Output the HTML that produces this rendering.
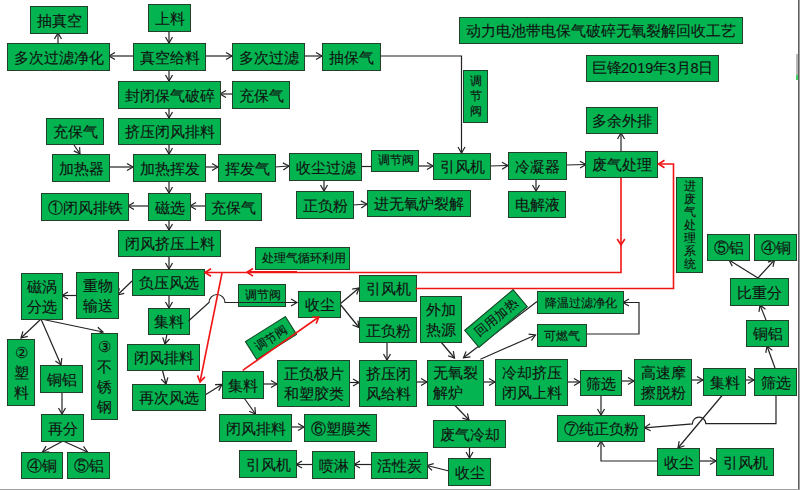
<!DOCTYPE html>
<html><head><meta charset="utf-8"><title>动力电池带电保气破碎无氧裂解回收工艺</title>
<style>
html,body{margin:0;padding:0;background:#fff;}
body{width:800px;height:490px;position:relative;overflow:hidden;font-family:"Liberation Sans",sans-serif;color:#111;}
.b{position:absolute;box-sizing:border-box;background:#03b451;border:1px solid #22402a;display:flex;align-items:center;justify-content:center;text-align:center;white-space:nowrap;line-height:1;-webkit-text-stroke:0.12px #111;}
svg{position:absolute;left:0;top:0;}
.j{display:inline-block;text-align:justify;}
</style></head><body>

<svg width="800" height="490" viewBox="0 0 800 490" style="z-index:0"><path d="M537.0,301.6 L463.5,357.8" stroke="#222" stroke-width="1.2" fill="none"/><path d="M169.0,31.0 L169.0,43.0" stroke="#222" stroke-width="1.2" fill="none"/><path d="M165.5,37.0 L169.0,43.0 L172.5,37.0" stroke="#222" stroke-width="1.2" fill="none"/><path d="M133.0,56.0 L109.0,56.0" stroke="#222" stroke-width="1.2" fill="none"/><path d="M115.0,52.5 L109.0,56.0 L115.0,59.5" stroke="#222" stroke-width="1.2" fill="none"/><path d="M58.0,43.0 L58.0,33.0" stroke="#222" stroke-width="1.2" fill="none"/><path d="M61.5,39.0 L58.0,33.0 L54.5,39.0" stroke="#222" stroke-width="1.2" fill="none"/><path d="M205.0,56.0 L232.0,56.0" stroke="#222" stroke-width="1.2" fill="none"/><path d="M226.0,59.5 L232.0,56.0 L226.0,52.5" stroke="#222" stroke-width="1.2" fill="none"/><path d="M304.0,56.0 L322.0,56.0" stroke="#222" stroke-width="1.2" fill="none"/><path d="M316.0,59.5 L322.0,56.0 L316.0,52.5" stroke="#222" stroke-width="1.2" fill="none"/><path d="M380.0,56.0 L461.5,56.0 L461.5,153.0" stroke="#222" stroke-width="1.2" fill="none"/><path d="M458.0,147.0 L461.5,153.0 L465.0,147.0" stroke="#222" stroke-width="1.2" fill="none"/><path d="M169.0,70.0 L169.0,81.0" stroke="#222" stroke-width="1.2" fill="none"/><path d="M165.5,75.0 L169.0,81.0 L172.5,75.0" stroke="#222" stroke-width="1.2" fill="none"/><path d="M232.0,94.0 L220.0,94.0" stroke="#222" stroke-width="1.2" fill="none"/><path d="M226.0,90.5 L220.0,94.0 L226.0,97.5" stroke="#222" stroke-width="1.2" fill="none"/><path d="M169.0,108.0 L169.0,118.0" stroke="#222" stroke-width="1.2" fill="none"/><path d="M165.5,112.0 L169.0,118.0 L172.5,112.0" stroke="#222" stroke-width="1.2" fill="none"/><path d="M74.0,145.0 L80.0,154.0" stroke="#222" stroke-width="1.2" fill="none"/><path d="M73.8,150.9 L80.0,154.0 L79.6,147.1" stroke="#222" stroke-width="1.2" fill="none"/><path d="M169.0,144.0 L169.0,154.0" stroke="#222" stroke-width="1.2" fill="none"/><path d="M165.5,148.0 L169.0,154.0 L172.5,148.0" stroke="#222" stroke-width="1.2" fill="none"/><path d="M109.0,167.0 L133.0,167.0" stroke="#222" stroke-width="1.2" fill="none"/><path d="M127.0,170.5 L133.0,167.0 L127.0,163.5" stroke="#222" stroke-width="1.2" fill="none"/><path d="M205.0,167.0 L218.0,167.0" stroke="#222" stroke-width="1.2" fill="none"/><path d="M212.0,170.5 L218.0,167.0 L212.0,163.5" stroke="#222" stroke-width="1.2" fill="none"/><path d="M275.0,167.0 L289.0,166.0" stroke="#222" stroke-width="1.2" fill="none"/><path d="M283.3,169.9 L289.0,166.0 L282.8,162.9" stroke="#222" stroke-width="1.2" fill="none"/><path d="M361.0,166.5 L371.0,166.5" stroke="#222" stroke-width="1.2" fill="none"/><path d="M418.0,166.0 L433.0,166.0" stroke="#222" stroke-width="1.2" fill="none"/><path d="M427.0,169.5 L433.0,166.0 L427.0,162.5" stroke="#222" stroke-width="1.2" fill="none"/><path d="M490.0,166.0 L508.0,165.5" stroke="#222" stroke-width="1.2" fill="none"/><path d="M502.1,169.2 L508.0,165.5 L501.9,162.2" stroke="#222" stroke-width="1.2" fill="none"/><path d="M536.0,179.0 L536.0,191.0" stroke="#222" stroke-width="1.2" fill="none"/><path d="M532.5,185.0 L536.0,191.0 L539.5,185.0" stroke="#222" stroke-width="1.2" fill="none"/><path d="M566.0,165.0 L586.0,164.5" stroke="#222" stroke-width="1.2" fill="none"/><path d="M580.1,168.1 L586.0,164.5 L579.9,161.2" stroke="#222" stroke-width="1.2" fill="none"/><path d="M621.0,152.0 L621.0,133.0" stroke="#222" stroke-width="1.2" fill="none"/><path d="M624.5,139.0 L621.0,133.0 L617.5,139.0" stroke="#222" stroke-width="1.2" fill="none"/><path d="M169.0,181.0 L169.0,193.0" stroke="#222" stroke-width="1.2" fill="none"/><path d="M165.5,187.0 L169.0,193.0 L172.5,187.0" stroke="#222" stroke-width="1.2" fill="none"/><path d="M148.0,206.0 L128.0,206.0" stroke="#222" stroke-width="1.2" fill="none"/><path d="M134.0,202.5 L128.0,206.0 L134.0,209.5" stroke="#222" stroke-width="1.2" fill="none"/><path d="M205.0,206.0 L190.0,206.0" stroke="#222" stroke-width="1.2" fill="none"/><path d="M196.0,202.5 L190.0,206.0 L196.0,209.5" stroke="#222" stroke-width="1.2" fill="none"/><path d="M324.0,180.0 L324.0,191.0" stroke="#222" stroke-width="1.2" fill="none"/><path d="M320.5,185.0 L324.0,191.0 L327.5,185.0" stroke="#222" stroke-width="1.2" fill="none"/><path d="M353.0,205.0 L367.0,204.0" stroke="#222" stroke-width="1.2" fill="none"/><path d="M361.3,207.9 L367.0,204.0 L360.8,200.9" stroke="#222" stroke-width="1.2" fill="none"/><path d="M169.0,220.0 L169.0,230.0" stroke="#222" stroke-width="1.2" fill="none"/><path d="M165.5,224.0 L169.0,230.0 L172.5,224.0" stroke="#222" stroke-width="1.2" fill="none"/><path d="M169.0,256.0 L169.0,269.0" stroke="#222" stroke-width="1.2" fill="none"/><path d="M165.5,263.0 L169.0,269.0 L172.5,263.0" stroke="#222" stroke-width="1.2" fill="none"/><path d="M169.0,295.0 L169.0,308.0" stroke="#222" stroke-width="1.2" fill="none"/><path d="M165.5,302.0 L169.0,308.0 L172.5,302.0" stroke="#222" stroke-width="1.2" fill="none"/><path d="M132.0,281.0 L117.5,295.0" stroke="#222" stroke-width="1.2" fill="none"/><path d="M119.4,288.3 L117.5,295.0 L124.2,293.4" stroke="#222" stroke-width="1.2" fill="none"/><path d="M76.0,295.5 L62.0,295.5" stroke="#222" stroke-width="1.2" fill="none"/><path d="M68.0,292.0 L62.0,295.5 L68.0,299.0" stroke="#222" stroke-width="1.2" fill="none"/><path d="M41.0,319.0 L21.0,338.0" stroke="#222" stroke-width="1.2" fill="none"/><path d="M22.9,331.3 L21.0,338.0 L27.8,336.4" stroke="#222" stroke-width="1.2" fill="none"/><path d="M41.0,319.0 L61.0,365.0" stroke="#222" stroke-width="1.2" fill="none"/><path d="M55.4,360.9 L61.0,365.0 L61.8,358.1" stroke="#222" stroke-width="1.2" fill="none"/><path d="M41.0,319.0 L103.0,332.0" stroke="#222" stroke-width="1.2" fill="none"/><path d="M96.4,334.2 L103.0,332.0 L97.8,327.3" stroke="#222" stroke-width="1.2" fill="none"/><path d="M62.0,392.0 L62.0,414.0" stroke="#222" stroke-width="1.2" fill="none"/><path d="M58.5,408.0 L62.0,414.0 L65.5,408.0" stroke="#222" stroke-width="1.2" fill="none"/><path d="M63.0,441.0 L42.5,452.0" stroke="#222" stroke-width="1.2" fill="none"/><path d="M46.1,446.1 L42.5,452.0 L49.4,452.2" stroke="#222" stroke-width="1.2" fill="none"/><path d="M63.0,441.0 L87.5,452.0" stroke="#222" stroke-width="1.2" fill="none"/><path d="M80.6,452.7 L87.5,452.0 L83.5,446.3" stroke="#222" stroke-width="1.2" fill="none"/><path d="M167.0,334.0 L165.0,344.0" stroke="#222" stroke-width="1.2" fill="none"/><path d="M162.7,337.4 L165.0,344.0 L169.6,338.8" stroke="#222" stroke-width="1.2" fill="none"/><path d="M162.5,370.5 L166.0,384.0" stroke="#222" stroke-width="1.2" fill="none"/><path d="M161.1,379.1 L166.0,384.0 L167.9,377.3" stroke="#222" stroke-width="1.2" fill="none"/><path d="M205.0,395.0 L222.0,384.5" stroke="#222" stroke-width="1.2" fill="none"/><path d="M218.7,390.6 L222.0,384.5 L215.1,384.7" stroke="#222" stroke-width="1.2" fill="none"/><path d="M243.7,397.5 L255.5,414.0" stroke="#222" stroke-width="1.2" fill="none"/><path d="M249.2,411.2 L255.5,414.0 L254.9,407.1" stroke="#222" stroke-width="1.2" fill="none"/><path d="M291.0,427.0 L304.0,427.0" stroke="#222" stroke-width="1.2" fill="none"/><path d="M298.0,430.5 L304.0,427.0 L298.0,423.5" stroke="#222" stroke-width="1.2" fill="none"/><path d="M263.0,384.0 L277.0,384.0" stroke="#222" stroke-width="1.2" fill="none"/><path d="M271.0,387.5 L277.0,384.0 L271.0,380.5" stroke="#222" stroke-width="1.2" fill="none"/><path d="M349.0,382.5 L359.0,382.5" stroke="#222" stroke-width="1.2" fill="none"/><path d="M353.0,386.0 L359.0,382.5 L353.0,379.0" stroke="#222" stroke-width="1.2" fill="none"/><path d="M387.0,342.0 L387.0,360.0" stroke="#222" stroke-width="1.2" fill="none"/><path d="M383.5,354.0 L387.0,360.0 L390.5,354.0" stroke="#222" stroke-width="1.2" fill="none"/><path d="M340.0,304.0 L359.0,288.0" stroke="#222" stroke-width="1.2" fill="none"/><path d="M356.7,294.5 L359.0,288.0 L352.2,289.2" stroke="#222" stroke-width="1.2" fill="none"/><path d="M340.0,304.0 L359.0,327.5" stroke="#222" stroke-width="1.2" fill="none"/><path d="M352.5,325.0 L359.0,327.5 L357.9,320.6" stroke="#222" stroke-width="1.2" fill="none"/><path d="M416.0,382.0 L427.0,382.0" stroke="#222" stroke-width="1.2" fill="none"/><path d="M421.0,385.5 L427.0,382.0 L421.0,378.5" stroke="#222" stroke-width="1.2" fill="none"/><path d="M441.0,342.0 L454.5,358.0" stroke="#222" stroke-width="1.2" fill="none"/><path d="M448.0,355.7 L454.5,358.0 L453.3,351.2" stroke="#222" stroke-width="1.2" fill="none"/><path d="M480.4,359.2 L535.5,335.0" stroke="#222" stroke-width="1.2" fill="none"/><path d="M531.4,340.6 L535.5,335.0 L528.6,334.2" stroke="#222" stroke-width="1.2" fill="none"/><path d="M586.0,334.0 L639.0,334.0 L639.0,302.5 L623.0,302.5" stroke="#222" stroke-width="1.2" fill="none"/><path d="M629.0,299.0 L623.0,302.5 L629.0,306.0" stroke="#222" stroke-width="1.2" fill="none"/><path d="M483.0,382.0 L495.0,382.0" stroke="#222" stroke-width="1.2" fill="none"/><path d="M489.0,385.5 L495.0,382.0 L489.0,378.5" stroke="#222" stroke-width="1.2" fill="none"/><path d="M567.0,382.0 L580.0,382.0" stroke="#222" stroke-width="1.2" fill="none"/><path d="M574.0,385.5 L580.0,382.0 L574.0,378.5" stroke="#222" stroke-width="1.2" fill="none"/><path d="M601.0,395.0 L601.0,415.0" stroke="#222" stroke-width="1.2" fill="none"/><path d="M597.5,409.0 L601.0,415.0 L604.5,409.0" stroke="#222" stroke-width="1.2" fill="none"/><path d="M621.5,381.0 L634.0,381.0" stroke="#222" stroke-width="1.2" fill="none"/><path d="M628.0,384.5 L634.0,381.0 L628.0,377.5" stroke="#222" stroke-width="1.2" fill="none"/><path d="M691.0,380.0 L703.0,380.0" stroke="#222" stroke-width="1.2" fill="none"/><path d="M697.0,383.5 L703.0,380.0 L697.0,376.5" stroke="#222" stroke-width="1.2" fill="none"/><path d="M745.0,380.0 L754.0,380.0" stroke="#222" stroke-width="1.2" fill="none"/><path d="M748.0,383.5 L754.0,380.0 L748.0,376.5" stroke="#222" stroke-width="1.2" fill="none"/><path d="M775.0,368.0 L767.0,346.0" stroke="#222" stroke-width="1.2" fill="none"/><path d="M772.3,350.4 L767.0,346.0 L765.8,352.8" stroke="#222" stroke-width="1.2" fill="none"/><path d="M766.0,320.0 L760.0,305.0" stroke="#222" stroke-width="1.2" fill="none"/><path d="M765.5,309.3 L760.0,305.0 L759.0,311.9" stroke="#222" stroke-width="1.2" fill="none"/><path d="M758.0,278.0 L729.0,260.0" stroke="#222" stroke-width="1.2" fill="none"/><path d="M735.9,260.2 L729.0,260.0 L732.3,266.1" stroke="#222" stroke-width="1.2" fill="none"/><path d="M758.0,278.0 L774.5,260.0" stroke="#222" stroke-width="1.2" fill="none"/><path d="M773.0,266.8 L774.5,260.0 L767.9,262.1" stroke="#222" stroke-width="1.2" fill="none"/><path d="M722.5,395.0 L678.0,448.0" stroke="#222" stroke-width="1.2" fill="none"/><path d="M679.2,441.2 L678.0,448.0 L684.5,445.7" stroke="#222" stroke-width="1.2" fill="none"/><path d="M699.0,461.0 L716.0,461.0" stroke="#222" stroke-width="1.2" fill="none"/><path d="M710.0,464.5 L716.0,461.0 L710.0,457.5" stroke="#222" stroke-width="1.2" fill="none"/><path d="M657.0,461.0 L601.0,461.0 L601.0,441.0" stroke="#222" stroke-width="1.2" fill="none"/><path d="M604.5,447.0 L601.0,441.0 L597.5,447.0" stroke="#222" stroke-width="1.2" fill="none"/><path d="M455.0,405.5 L469.0,420.0" stroke="#222" stroke-width="1.2" fill="none"/><path d="M462.3,418.1 L469.0,420.0 L467.4,413.3" stroke="#222" stroke-width="1.2" fill="none"/><path d="M469.5,447.0 L469.5,458.0" stroke="#222" stroke-width="1.2" fill="none"/><path d="M466.0,452.0 L469.5,458.0 L473.0,452.0" stroke="#222" stroke-width="1.2" fill="none"/><path d="M449.0,471.0 L427.0,465.5" stroke="#222" stroke-width="1.2" fill="none"/><path d="M433.7,463.6 L427.0,465.5 L432.0,470.4" stroke="#222" stroke-width="1.2" fill="none"/><path d="M371.0,464.5 L354.0,464.5" stroke="#222" stroke-width="1.2" fill="none"/><path d="M360.0,461.0 L354.0,464.5 L360.0,468.0" stroke="#222" stroke-width="1.2" fill="none"/><path d="M312.0,464.5 L296.0,464.5" stroke="#222" stroke-width="1.2" fill="none"/><path d="M302.0,461.0 L296.0,464.5 L302.0,468.0" stroke="#222" stroke-width="1.2" fill="none"/><path d="M776,395 L776,423.7 L705.8,423.7 A6.7,6.7 0 0 0 692.4,423.9 L644.4,427.8" stroke="#222" stroke-width="1.2" fill="none"/><path d="M650.1,423.8 L644.4,427.8 L650.7,430.8" stroke="#222" stroke-width="1.2" fill="none"/></svg>
<div class="b" style="left:30px;top:6px;width:58px;height:28px;font-size:15px;z-index:1"><div style="text-align:center"><span class="j" style="width:45px;text-align-last:justify">抽真空</span></div></div>
<div class="b" style="left:148px;top:4px;width:43px;height:28px;font-size:15px;z-index:1"><div style="text-align:center"><span class="j" style="width:30px;text-align-last:justify">上料</span></div></div>
<div class="b" style="left:7px;top:43px;width:103px;height:28px;font-size:15px;z-index:1"><div style="text-align:center"><span class="j" style="width:90px;text-align-last:justify">多次过滤净化</span></div></div>
<div class="b" style="left:133px;top:43px;width:73px;height:28px;font-size:15px;z-index:1"><div style="text-align:center"><span class="j" style="width:60px;text-align-last:justify">真空给料</span></div></div>
<div class="b" style="left:232px;top:43px;width:73px;height:28px;font-size:15px;z-index:1"><div style="text-align:center"><span class="j" style="width:60px;text-align-last:justify">多次过滤</span></div></div>
<div class="b" style="left:322px;top:43px;width:59px;height:28px;font-size:15px;z-index:1"><div style="text-align:center"><span class="j" style="width:45px;text-align-last:justify">抽保气</span></div></div>
<div class="b" style="left:459px;top:17px;width:284px;height:27px;font-size:15px;z-index:1"><div style="text-align:center"><span class="j" style="width:270px;text-align-last:justify">动力电池带电保气破碎无氧裂解回收工艺</span></div></div>
<div class="b" style="left:463px;top:70px;width:25px;height:53px;font-size:12px;line-height:15px;z-index:1"><div style="text-align:center"><span class="j" style="width:12px;text-align-last:center">调</span><br><span class="j" style="width:12px;text-align-last:center">节</span><br><span class="j" style="width:12px;text-align-last:center">阀</span></div></div>
<div class="b" style="left:586px;top:55px;width:133px;height:27px;font-size:14.5px;font-family:'Liberation Sans',sans-serif;z-index:1"><span class="j" style="width:29px;text-align-last:justify">巨锋</span>2019<span class="j" style="width:14.5px;text-align-last:center">年</span>3<span class="j" style="width:14.5px;text-align-last:center">月</span>8<span class="j" style="width:14.5px;text-align-last:center">日</span></div>
<div class="b" style="left:118px;top:81px;width:103px;height:28px;font-size:15px;z-index:1"><div style="text-align:center"><span class="j" style="width:90px;text-align-last:justify">封闭保气破碎</span></div></div>
<div class="b" style="left:232px;top:81px;width:58px;height:28px;font-size:15px;z-index:1"><div style="text-align:center"><span class="j" style="width:45px;text-align-last:justify">充保气</span></div></div>
<div class="b" style="left:586px;top:107px;width:72px;height:27px;font-size:15px;z-index:1"><div style="text-align:center"><span class="j" style="width:60px;text-align-last:justify">多余外排</span></div></div>
<div class="b" style="left:118px;top:118px;width:103px;height:27px;font-size:15px;z-index:1"><div style="text-align:center"><span class="j" style="width:90px;text-align-last:justify">挤压闭风排料</span></div></div>
<div class="b" style="left:46px;top:118px;width:58px;height:27px;font-size:15px;z-index:1"><div style="text-align:center"><span class="j" style="width:45px;text-align-last:justify">充保气</span></div></div>
<div class="b" style="left:52px;top:154px;width:58px;height:28px;font-size:15px;z-index:1"><div style="text-align:center"><span class="j" style="width:45px;text-align-last:justify">加热器</span></div></div>
<div class="b" style="left:133px;top:154px;width:73px;height:28px;font-size:15px;z-index:1"><div style="text-align:center"><span class="j" style="width:60px;text-align-last:justify">加热挥发</span></div></div>
<div class="b" style="left:218px;top:154px;width:58px;height:28px;font-size:15px;z-index:1"><div style="text-align:center"><span class="j" style="width:45px;text-align-last:justify">挥发气</span></div></div>
<div class="b" style="left:289px;top:153px;width:73px;height:28px;font-size:15px;z-index:1"><div style="text-align:center"><span class="j" style="width:60px;text-align-last:justify">收尘过滤</span></div></div>
<div class="b" style="left:371px;top:150px;width:48px;height:22px;font-size:11.5px;z-index:1"><div style="text-align:center"><span class="j" style="width:34.5px;text-align-last:justify">调节阀</span></div></div>
<div class="b" style="left:433px;top:153px;width:58px;height:27px;font-size:15px;z-index:1"><div style="text-align:center"><span class="j" style="width:45px;text-align-last:justify">引风机</span></div></div>
<div class="b" style="left:508px;top:152px;width:59px;height:28px;font-size:15px;z-index:1"><div style="text-align:center"><span class="j" style="width:45px;text-align-last:justify">冷凝器</span></div></div>
<div class="b" style="left:585px;top:151px;width:73px;height:27px;font-size:15px;z-index:1"><div style="text-align:center"><span class="j" style="width:60px;text-align-last:justify">废气处理</span></div></div>
<div class="b" style="left:148px;top:193px;width:43px;height:28px;font-size:15px;z-index:1"><div style="text-align:center"><span class="j" style="width:30px;text-align-last:justify">磁选</span></div></div>
<div class="b" style="left:41px;top:193px;width:88px;height:28px;font-size:15px;z-index:1"><div style="text-align:center"><span class="j" style="width:75px;text-align-last:justify">①闭风排铁</span></div></div>
<div class="b" style="left:205px;top:193px;width:57px;height:28px;font-size:15px;z-index:1"><div style="text-align:center"><span class="j" style="width:45px;text-align-last:justify">充保气</span></div></div>
<div class="b" style="left:296px;top:191px;width:58px;height:28px;font-size:15px;z-index:1"><div style="text-align:center"><span class="j" style="width:45px;text-align-last:justify">正负粉</span></div></div>
<div class="b" style="left:367px;top:190px;width:104px;height:27px;font-size:15px;z-index:1"><div style="text-align:center"><span class="j" style="width:90px;text-align-last:justify">进无氧炉裂解</span></div></div>
<div class="b" style="left:508px;top:191px;width:58px;height:27px;font-size:15px;z-index:1"><div style="text-align:center"><span class="j" style="width:45px;text-align-last:justify">电解液</span></div></div>
<div class="b" style="left:676px;top:177px;width:27px;height:96px;font-size:12px;line-height:13px;z-index:1"><div style="text-align:center"><span class="j" style="width:12px;text-align-last:center">进</span><br><span class="j" style="width:12px;text-align-last:center">废</span><br><span class="j" style="width:12px;text-align-last:center">气</span><br><span class="j" style="width:12px;text-align-last:center">处</span><br><span class="j" style="width:12px;text-align-last:center">理</span><br><span class="j" style="width:12px;text-align-last:center">系</span><br><span class="j" style="width:12px;text-align-last:center">统</span></div></div>
<div class="b" style="left:118px;top:230px;width:103px;height:27px;font-size:15px;z-index:1"><div style="text-align:center"><span class="j" style="width:90px;text-align-last:justify">闭风挤压上料</span></div></div>
<div class="b" style="left:707px;top:234px;width:43px;height:27px;font-size:15px;z-index:1"><div style="text-align:center"><span class="j" style="width:30px;text-align-last:justify">⑤铝</span></div></div>
<div class="b" style="left:754px;top:234px;width:43px;height:27px;font-size:15px;z-index:1"><div style="text-align:center"><span class="j" style="width:30px;text-align-last:justify">④铜</span></div></div>
<div class="b" style="left:255px;top:247px;width:95px;height:23px;font-size:11.5px;z-index:1"><div style="text-align:center"><span class="j" style="width:80.5px;text-align-last:justify">处理气循环利用</span></div></div>
<div class="b" style="left:132px;top:269px;width:73px;height:27px;font-size:15px;z-index:1"><div style="text-align:center"><span class="j" style="width:60px;text-align-last:justify">负压风选</span></div></div>
<div class="b" style="left:76px;top:272px;width:43px;height:47px;font-size:15px;line-height:20px;z-index:1"><div style="text-align:center"><span class="j" style="width:30px;text-align-last:justify">重物</span><br><span class="j" style="width:30px;text-align-last:justify">输送</span></div></div>
<div class="b" style="left:21px;top:273px;width:42px;height:47px;font-size:15px;line-height:20px;z-index:1"><div style="text-align:center"><span class="j" style="width:30px;text-align-last:justify">磁涡</span><br><span class="j" style="width:30px;text-align-last:justify">分选</span></div></div>
<div class="b" style="left:730px;top:278px;width:59px;height:28px;font-size:15px;z-index:1"><div style="text-align:center"><span class="j" style="width:45px;text-align-last:justify">比重分</span></div></div>
<div class="b" style="left:359px;top:275px;width:58px;height:27px;font-size:15px;z-index:1"><div style="text-align:center"><span class="j" style="width:45px;text-align-last:justify">引风机</span></div></div>
<div class="b" style="left:238px;top:284px;width:48px;height:23px;font-size:11.5px;z-index:1"><div style="text-align:center"><span class="j" style="width:34.5px;text-align-last:justify">调节阀</span></div></div>
<div class="b" style="left:298px;top:291px;width:43px;height:27px;font-size:15px;z-index:1"><div style="text-align:center"><span class="j" style="width:30px;text-align-last:justify">收尘</span></div></div>
<div class="b" style="left:537px;top:291px;width:87px;height:23px;font-size:12px;z-index:1"><div style="text-align:center"><span class="j" style="width:72px;text-align-last:justify">降温过滤净化</span></div></div>
<div class="b" style="left:420px;top:296px;width:42px;height:47px;font-size:15px;line-height:20px;z-index:1"><div style="text-align:center"><span class="j" style="width:30px;text-align-last:justify">外加</span><br><span class="j" style="width:30px;text-align-last:justify">热源</span></div></div>
<div class="b" style="left:148px;top:308px;width:42px;height:27px;font-size:15px;z-index:1"><div style="text-align:center"><span class="j" style="width:30px;text-align-last:justify">集料</span></div></div>
<div class="b" style="left:359px;top:317px;width:58px;height:26px;font-size:15px;z-index:1"><div style="text-align:center"><span class="j" style="width:45px;text-align-last:justify">正负粉</span></div></div>
<div class="b" style="left:746px;top:320px;width:43px;height:27px;font-size:15px;z-index:1"><div style="text-align:center"><span class="j" style="width:30px;text-align-last:justify">铜铝</span></div></div>
<div class="b" style="left:537px;top:324px;width:50px;height:23px;font-size:12px;z-index:1"><div style="text-align:center"><span class="j" style="width:36px;text-align-last:justify">可燃气</span></div></div>
<div class="b" style="left:7px;top:339px;width:28px;height:67px;font-size:15px;line-height:20px;z-index:1"><div style="text-align:center"><span class="j" style="width:15px;text-align-last:center">②</span><br><span class="j" style="width:15px;text-align-last:center">塑</span><br><span class="j" style="width:15px;text-align-last:center">料</span></div></div>
<div class="b" style="left:91px;top:333px;width:27px;height:87px;font-size:15px;line-height:20px;z-index:1"><div style="text-align:center"><span class="j" style="width:15px;text-align-last:center">③</span><br><span class="j" style="width:15px;text-align-last:center">不</span><br><span class="j" style="width:15px;text-align-last:center">锈</span><br><span class="j" style="width:15px;text-align-last:center">钢</span></div></div>
<div class="b" style="left:127px;top:344px;width:73px;height:27px;font-size:15px;z-index:1"><div style="text-align:center"><span class="j" style="width:60px;text-align-last:justify">闭风排料</span></div></div>
<div class="b" style="left:40px;top:365px;width:43px;height:28px;font-size:15px;z-index:1"><div style="text-align:center"><span class="j" style="width:30px;text-align-last:justify">铜铝</span></div></div>
<div class="b" style="left:634px;top:359px;width:58px;height:47px;font-size:15px;line-height:20px;z-index:1"><div style="text-align:center"><span class="j" style="width:45px;text-align-last:justify">高速摩</span><br><span class="j" style="width:45px;text-align-last:justify">擦脱粉</span></div></div>
<div class="b" style="left:277px;top:360px;width:73px;height:47px;font-size:15px;line-height:20px;z-index:1"><div style="text-align:center"><span class="j" style="width:60px;text-align-last:justify">正负极片</span><br><span class="j" style="width:60px;text-align-last:justify">和塑胶类</span></div></div>
<div class="b" style="left:359px;top:360px;width:58px;height:47px;font-size:15px;line-height:20px;z-index:1"><div style="text-align:center"><span class="j" style="width:45px;text-align-last:justify">挤压闭</span><br><span class="j" style="width:45px;text-align-last:justify">风给料</span></div></div>
<div class="b" style="left:427px;top:360px;width:57px;height:46px;font-size:15px;line-height:20px;z-index:1"><div style="text-align:left"><span class="j" style="width:45px;text-align-last:justify">无氧裂</span><br><span class="j" style="width:30px;text-align-last:justify">解炉</span></div></div>
<div class="b" style="left:495px;top:359px;width:73px;height:47px;font-size:15px;line-height:20px;z-index:1"><div style="text-align:center"><span class="j" style="width:60px;text-align-last:justify">冷却挤压</span><br><span class="j" style="width:60px;text-align-last:justify">闭风上料</span></div></div>
<div class="b" style="left:703px;top:368px;width:43px;height:28px;font-size:15px;z-index:1"><div style="text-align:center"><span class="j" style="width:30px;text-align-last:justify">集料</span></div></div>
<div class="b" style="left:754px;top:368px;width:43px;height:28px;font-size:15px;z-index:1"><div style="text-align:center"><span class="j" style="width:30px;text-align-last:justify">筛选</span></div></div>
<div class="b" style="left:222px;top:371px;width:42px;height:28px;font-size:15px;z-index:1"><div style="text-align:center"><span class="j" style="width:30px;text-align-last:justify">集料</span></div></div>
<div class="b" style="left:580px;top:370px;width:42px;height:26px;font-size:15px;z-index:1"><div style="text-align:center"><span class="j" style="width:30px;text-align-last:justify">筛选</span></div></div>
<div class="b" style="left:132px;top:384px;width:74px;height:27px;font-size:15px;z-index:1"><div style="text-align:center"><span class="j" style="width:60px;text-align-last:justify">再次风选</span></div></div>
<div class="b" style="left:219px;top:414px;width:73px;height:28px;font-size:15px;z-index:1"><div style="text-align:center"><span class="j" style="width:60px;text-align-last:justify">闭风排料</span></div></div>
<div class="b" style="left:304px;top:414px;width:73px;height:28px;font-size:15px;z-index:1"><div style="text-align:center"><span class="j" style="width:60px;text-align-last:justify">⑥塑膜类</span></div></div>
<div class="b" style="left:41px;top:414px;width:43px;height:28px;font-size:15px;z-index:1"><div style="text-align:center"><span class="j" style="width:30px;text-align-last:justify">再分</span></div></div>
<div class="b" style="left:557px;top:415px;width:88px;height:27px;font-size:15px;z-index:1"><div style="text-align:center"><span class="j" style="width:75px;text-align-last:justify">⑦纯正负粉</span></div></div>
<div class="b" style="left:433px;top:420px;width:73px;height:28px;font-size:15px;z-index:1"><div style="text-align:center"><span class="j" style="width:60px;text-align-last:justify">废气冷却</span></div></div>
<div class="b" style="left:21px;top:452px;width:42px;height:27px;font-size:15px;z-index:1"><div style="text-align:center"><span class="j" style="width:30px;text-align-last:justify">④铜</span></div></div>
<div class="b" style="left:67px;top:452px;width:43px;height:27px;font-size:15px;z-index:1"><div style="text-align:center"><span class="j" style="width:30px;text-align-last:justify">⑤铝</span></div></div>
<div class="b" style="left:239px;top:450px;width:58px;height:28px;font-size:15px;z-index:1"><div style="text-align:center"><span class="j" style="width:45px;text-align-last:justify">引风机</span></div></div>
<div class="b" style="left:312px;top:451px;width:43px;height:28px;font-size:15px;z-index:1"><div style="text-align:center"><span class="j" style="width:30px;text-align-last:justify">喷淋</span></div></div>
<div class="b" style="left:371px;top:452px;width:57px;height:27px;font-size:15px;z-index:1"><div style="text-align:center"><span class="j" style="width:45px;text-align-last:justify">活性炭</span></div></div>
<div class="b" style="left:448px;top:458px;width:43px;height:28px;font-size:15px;z-index:1"><div style="text-align:center"><span class="j" style="width:30px;text-align-last:justify">收尘</span></div></div>
<div class="b" style="left:657px;top:448px;width:43px;height:28px;font-size:15px;z-index:1"><div style="text-align:center"><span class="j" style="width:30px;text-align-last:justify">收尘</span></div></div>
<div class="b" style="left:716px;top:448px;width:58px;height:28px;font-size:15px;z-index:1"><div style="text-align:center"><span class="j" style="width:45px;text-align-last:justify">引风机</span></div></div>
<div class="b" style="left:463.7px;top:306.9px;width:64px;height:23px;font-size:12.5px;transform:rotate(-40deg);z-index:1"><div style="text-align:center"><span class="j" style="width:50px;text-align-last:justify">回用加热</span></div></div>
<div class="b" style="left:247.4px;top:326.5px;width:48px;height:22px;font-size:12px;transform:rotate(-32deg);z-index:1"><div style="text-align:center"><span class="j" style="width:36px;text-align-last:justify">调节阀</span></div></div>
<svg width="800" height="490" viewBox="0 0 800 490" style="z-index:2"><path d="M466.1,351.4 L463.5,357.8 L470.4,356.9" stroke="#222" stroke-width="1.2" fill="none"/><path d="M188.5,321 L209,302.5 A8,8 0 0 1 225,302.5 L297,302.5" stroke="#222" stroke-width="1.2" fill="none"/><path d="M291.0,306.0 L297.0,302.5 L291.0,299.0" stroke="#222" stroke-width="1.2" fill="none"/><path d="M621,178 L621,272.5 L205,272.5" stroke="#f01515" stroke-width="1.6" fill="none"/><path d="M211.0,268.7 L205.0,272.5 L211.0,276.3" stroke="#f01515" stroke-width="1.6" fill="none"/><path d="M253.0,268.5 L247.0,272.3 L253.0,276.1" stroke="#f01515" stroke-width="1.6" fill="none"/><path d="M297,272 L247,272" stroke="#f01515" stroke-width="2.2" fill="none"/><path d="M617.2,239.0 L621.0,245.0 L624.8,239.0" stroke="#f01515" stroke-width="1.6" fill="none"/><path d="M415.5,288.5 L673.5,288.5 L673.5,164 L658.5,164" stroke="#f01515" stroke-width="1.6" fill="none"/><path d="M664.5,160.2 L658.5,164.0 L664.5,167.8" stroke="#f01515" stroke-width="1.6" fill="none"/><path d="M222,273 L200,382" stroke="#f01515" stroke-width="1.6" fill="none"/><path d="M197.5,375.4 L200.0,382.0 L204.9,376.9" stroke="#f01515" stroke-width="1.6" fill="none"/><path d="M242.7,370.4 L318.8,317" stroke="#f01515" stroke-width="1.6" fill="none"/><path d="M316.1,323.6 L318.8,317.0 L311.7,317.3" stroke="#f01515" stroke-width="1.6" fill="none"/><rect x="796" y="54" width="2" height="21" fill="#b8b8b8"/><rect x="796" y="75" width="2" height="5" fill="#3cd060"/><rect x="798" y="0" width="1.6" height="490" fill="#606060"/><rect x="0" y="489" width="800" height="1" fill="#a0a0a0"/></svg>
</body></html>
